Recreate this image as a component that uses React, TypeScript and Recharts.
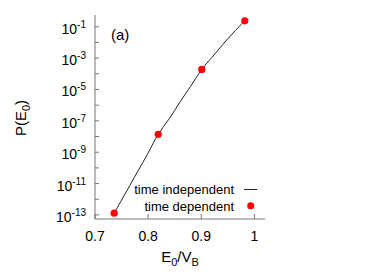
import { ComposedChart, Line, Scatter, XAxis, YAxis, Legend } from "recharts";

// time independent curve
const curveE = [0.736, 0.76, 0.78, 0.8, 0.819, 0.84, 0.86, 0.88, 0.901, 0.92, 0.94, 0.96, 0.975, 0.982];
const curveP = [1.3e-13, 3.5e-12, 5.6e-11, 8.9e-10, 1.4e-8, 1.4e-7, 1.6e-6, 1.6e-5, 1.9e-4, 1.1e-3, 7.1e-3, 4.0e-2, 0.14, 0.24];

// time dependent points
const dotE = [0.736, 0.819, 0.901, 0.982];
const dotP = [1.3e-13, 1.4e-8, 1.9e-4, 0.24];

const xTicks = [0.7, 0.8, 0.9, 1];
const yExps = [-1, -2, -3, -4, -5, -6, -7, -8, -9, -10, -11, -12, -13];
const yTicks = yExps.map((e) => Math.pow(10, e));

const curveData = curveE.map((e, i) => ({ e, p: curveP[i] }));
const dotData = dotE.map((e, i) => ({ e, p: dotP[i] }));

const FONT = "'Liberation Sans', Arial, Helvetica, sans-serif";
const FRAME = "#777";

const expOf = (v: number) => Math.round(Math.log10(v));

const LeftTick = (props: any) => {
  const { x, y, payload } = props;
  const ex = expOf(payload.value);
  return (
    <g>
      <line x1={x} y1={y} x2={x + 4} y2={y} stroke={FRAME} />
      {ex % 2 !== 0 && (
        <text x={x - 9} y={y + 7} textAnchor="end" fontSize={14} fontFamily={FONT} fill="#000">
          10<tspan dy={-6} fontSize={10}>{ex}</tspan>
        </text>
      )}
    </g>
  );
};

const RightTick = (props: any) => {
  const { x, y } = props;
  return <line x1={x} y1={y} x2={x - 4} y2={y} stroke={FRAME} />;
};

const BottomTick = (props: any) => {
  const { x, y, payload } = props;
  return (
    <g>
      <line x1={x} y1={y} x2={x} y2={y - 5} stroke={FRAME} />
      <text x={x} y={y + 22} textAnchor="middle" fontSize={14} fontFamily={FONT} fill="#000">
        {String(payload.value)}
      </text>
    </g>
  );
};

const TopTick = (props: any) => {
  const { x, y } = props;
  return <line x1={x} y1={y} x2={x} y2={y + 5} stroke={FRAME} />;
};

const XLabel = (props: any) => {
  const { viewBox } = props;
  const cx = viewBox.x + viewBox.width / 2;
  return (
    <text x={cx} y={262} textAnchor="middle" fontSize={15} fontFamily={FONT} fill="#000">
      E<tspan dy={4} fontSize={11}>0</tspan>
      <tspan dy={-4}>/V</tspan>
      <tspan dy={4} fontSize={11}>B</tspan>
    </text>
  );
};

const YLabel = () => (
  <text
    x={0}
    y={0}
    transform="translate(26,118) rotate(-90)"
    textAnchor="middle"
    fontSize={15}
    fontFamily={FONT}
    fill="#000"
  >
    P(E<tspan dy={4} fontSize={11}>0</tspan>
    <tspan dy={-4}>)</tspan>
  </text>
);

const renderLegend = () => (
  <svg width={140} height={36} style={{ display: "block" }}>
    <text x={109} y={14} textAnchor="end" fontSize={13} fontFamily={FONT} fill="#000">
      time independent
    </text>
    <line x1={119} y1={9.5} x2={132} y2={9.5} stroke="#222" />
    <text x={109} y={30.5} textAnchor="end" fontSize={13} fontFamily={FONT} fill="#000">
      time dependent
    </text>
    <circle cx={125.7} cy={25.7} r={3.5} fill="#ff0000" />
  </svg>
);

export default function App() {
  return (
    <div style={{ position: "absolute", left: 0, top: 0, width: 382, height: 278, background: "#fff" }}>
      <ComposedChart width={382} height={278} margin={{ top: 15, right: 117, bottom: 29, left: 35 }}>
        <XAxis
          xAxisId="bottom"
          dataKey="e"
          type="number"
          domain={[0.7, 1.02]}
          allowDataOverflow
          ticks={xTicks}
          height={30}
          tickSize={0}
          tickMargin={0}
          tickLine={false}
          stroke={FRAME}
          tick={<BottomTick />}
          label={<XLabel />}
        />
        <XAxis
          xAxisId="top"
          orientation="top"
          type="number"
          domain={[0.7, 1.02]}
          allowDataOverflow
          ticks={xTicks}
          height={0}
          tickSize={0}
          tickMargin={0}
          tickLine={false}
          stroke={FRAME}
          tick={<TopTick />}
        />
        <YAxis
          yAxisId="left"
          dataKey="p"
          type="number"
          scale="log"
          domain={[5.5e-14, 0.562]}
          allowDataOverflow
          ticks={yTicks}
          interval={0}
          width={60}
          tickSize={0}
          tickMargin={0}
          tickLine={false}
          stroke={FRAME}
          tick={<LeftTick />}
          label={<YLabel />}
        />
        <YAxis
          yAxisId="right"
          orientation="right"
          type="number"
          scale="log"
          domain={[5.5e-14, 0.562]}
          allowDataOverflow
          ticks={yTicks}
          interval={0}
          width={0}
          tickSize={0}
          tickMargin={0}
          tickLine={false}
          stroke={FRAME}
          tick={<RightTick />}
        />
        <Legend
          verticalAlign="middle"
          align="center"
          layout="horizontal"
          content={renderLegend}
          wrapperStyle={{ position: "absolute", left: 125, top: 180, width: 140, height: 36 }}
        />
        <Line
          xAxisId="bottom"
          yAxisId="left"
          data={curveData}
          dataKey="p"
          type="natural"
          stroke="#222"
          strokeWidth={1}
          dot={false}
          activeDot={false}
          name="time independent"
          isAnimationActive={false}
        />
        <Scatter
          xAxisId="bottom"
          yAxisId="left"
          data={dotData}
          dataKey="p"
          fill="#ff0000"
          shape={(p: any) => <circle cx={p.cx} cy={p.cy} r={3.6} fill="#ff0000" />}
          name="time dependent"
          isAnimationActive={false}
        />
      </ComposedChart>
      <div
        style={{
          position: "absolute",
          left: 111,
          top: 26,
          fontFamily: FONT,
          fontSize: 15,
          color: "#000",
          lineHeight: "18px",
        }}
      >
        (a)
      </div>
    </div>
  );
}
